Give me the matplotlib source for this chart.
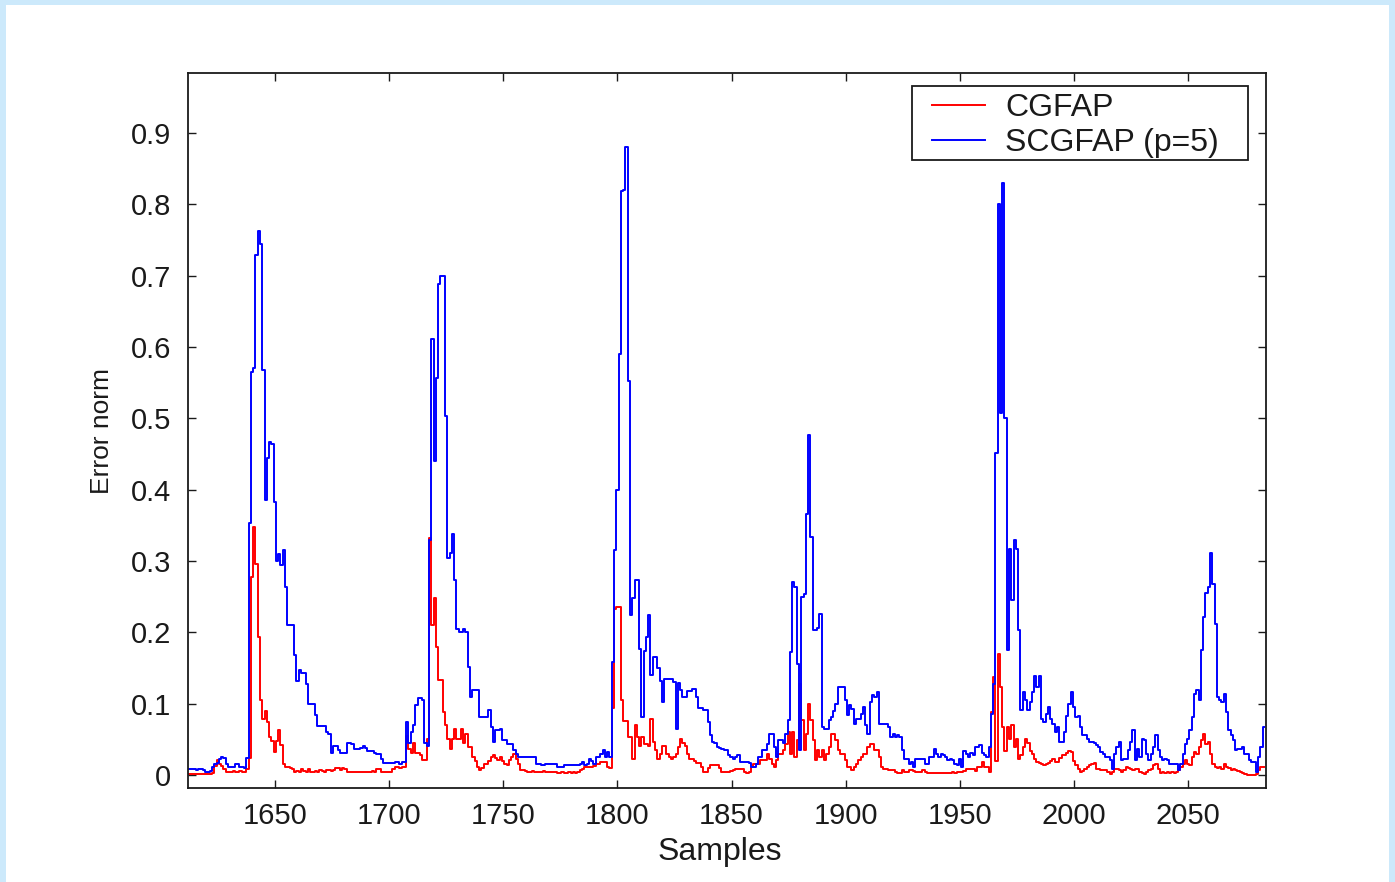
import numpy as np
import matplotlib
matplotlib.use("Agg")
import matplotlib.pyplot as plt
from matplotlib.patches import Rectangle

plt.rcParams['font.family'] = ['Liberation Sans', 'DejaVu Sans']

# Error norm per sample, starting at sample 1612
first_sample = 1612

cgfap = [
    0.001, 0.001, 0.001, 0.001, 0.001, 0.001, 0.001, 0.001, 0.001, 0.001,
    0.002, 0.003, 0.013, 0.021, 0.016, 0.013, 0.008, 0.005, 0.005, 0.005,
    0.006, 0.005, 0.005, 0.006, 0.005, 0.005, 0.008, 0.024, 0.277, 0.348,
    0.296, 0.193, 0.106, 0.079, 0.090, 0.074, 0.053, 0.048, 0.032, 0.048,
    0.063, 0.042, 0.016, 0.011, 0.011, 0.010, 0.008, 0.005, 0.006, 0.004,
    0.008, 0.006, 0.004, 0.008, 0.005, 0.004, 0.006, 0.005, 0.007, 0.006,
    0.004, 0.007, 0.007, 0.006, 0.007, 0.010, 0.010, 0.007, 0.010, 0.008,
    0.005, 0.005, 0.005, 0.005, 0.004, 0.005, 0.005, 0.005, 0.004, 0.005,
    0.005, 0.006, 0.004, 0.008, 0.008, 0.005, 0.005, 0.004, 0.005, 0.005,
    0.008, 0.012, 0.012, 0.010, 0.012, 0.012, 0.055, 0.036, 0.031, 0.045,
    0.031, 0.031, 0.028, 0.021, 0.021, 0.050, 0.333, 0.210, 0.248, 0.180,
    0.133, 0.133, 0.089, 0.070, 0.050, 0.036, 0.050, 0.065, 0.050, 0.050,
    0.065, 0.045, 0.058, 0.040, 0.040, 0.026, 0.020, 0.011, 0.007, 0.010,
    0.016, 0.016, 0.020, 0.026, 0.028, 0.024, 0.021, 0.026, 0.020, 0.016,
    0.014, 0.021, 0.025, 0.030, 0.023, 0.015, 0.007, 0.007, 0.006, 0.005,
    0.005, 0.006, 0.005, 0.004, 0.005, 0.005, 0.006, 0.005, 0.004, 0.005,
    0.005, 0.004, 0.003, 0.003, 0.004, 0.003, 0.003, 0.004, 0.003, 0.004,
    0.003, 0.005, 0.007, 0.009, 0.011, 0.011, 0.011, 0.011, 0.013, 0.016,
    0.016, 0.018, 0.018, 0.018, 0.012, 0.010, 0.094, 0.233, 0.236, 0.236,
    0.106, 0.076, 0.076, 0.053, 0.053, 0.023, 0.070, 0.053, 0.041, 0.053,
    0.044, 0.044, 0.041, 0.079, 0.047, 0.035, 0.023, 0.030, 0.041, 0.041,
    0.029, 0.026, 0.023, 0.026, 0.029, 0.040, 0.050, 0.045, 0.041, 0.030,
    0.023, 0.023, 0.020, 0.017, 0.017, 0.012, 0.005, 0.005, 0.010, 0.014,
    0.014, 0.014, 0.014, 0.010, 0.005, 0.005, 0.005, 0.005, 0.006, 0.007,
    0.008, 0.009, 0.009, 0.009, 0.004, 0.003, 0.004, 0.012, 0.016, 0.016,
    0.016, 0.021, 0.021, 0.021, 0.030, 0.023, 0.016, 0.012, 0.021, 0.030,
    0.030, 0.035, 0.044, 0.060, 0.030, 0.060, 0.025, 0.049, 0.128, 0.077,
    0.035, 0.058, 0.100, 0.077, 0.049, 0.021, 0.035, 0.026, 0.035, 0.021,
    0.030, 0.040, 0.058, 0.058, 0.049, 0.035, 0.030, 0.030, 0.021, 0.012,
    0.012, 0.007, 0.012, 0.016, 0.021, 0.026, 0.030, 0.030, 0.040, 0.044,
    0.044, 0.035, 0.035, 0.025, 0.011, 0.009, 0.008, 0.007, 0.007, 0.007,
    0.005, 0.003, 0.003, 0.007, 0.005, 0.005, 0.007, 0.007, 0.006, 0.005,
    0.005, 0.005, 0.007, 0.005, 0.003, 0.003, 0.003, 0.003, 0.003, 0.003,
    0.003, 0.003, 0.003, 0.003, 0.003, 0.004, 0.003, 0.004, 0.005, 0.005,
    0.006, 0.008, 0.008, 0.008, 0.009, 0.006, 0.011, 0.011, 0.019, 0.012,
    0.011, 0.005, 0.089, 0.137, 0.020, 0.170, 0.123, 0.067, 0.034, 0.067,
    0.050, 0.070, 0.040, 0.050, 0.022, 0.028, 0.039, 0.050, 0.045, 0.034,
    0.030, 0.022, 0.019, 0.017, 0.015, 0.014, 0.016, 0.017, 0.020, 0.022,
    0.019, 0.019, 0.024, 0.028, 0.028, 0.031, 0.034, 0.032, 0.020, 0.014,
    0.008, 0.005, 0.006, 0.008, 0.011, 0.014, 0.015, 0.017, 0.009, 0.008,
    0.007, 0.007, 0.007, 0.005, 0.001, 0.005, 0.009, 0.008, 0.007, 0.005,
    0.007, 0.012, 0.010, 0.009, 0.007, 0.009, 0.008, 0.005, 0.003, 0.002,
    0.005, 0.007, 0.009, 0.014, 0.016, 0.008, 0.003, 0.005, 0.003, 0.004,
    0.003, 0.005, 0.003, 0.005, 0.007, 0.012, 0.016, 0.021, 0.016, 0.014,
    0.025, 0.032, 0.030, 0.040, 0.049, 0.058, 0.044, 0.047, 0.030, 0.016,
    0.012, 0.010, 0.012, 0.008, 0.016, 0.012, 0.010, 0.007, 0.009, 0.007,
    0.006, 0.005, 0.003, 0.001, 0.000, 0.000, 0.000, 0.000, 0.002, 0.007,
    0.012, 0.012,
]

scgfap = [
    0.008, 0.009, 0.008, 0.008, 0.007, 0.008, 0.008, 0.007, 0.005, 0.005,
    0.006, 0.012, 0.016, 0.017, 0.022, 0.026, 0.024, 0.016, 0.011, 0.011,
    0.012, 0.016, 0.015, 0.011, 0.011, 0.010, 0.024, 0.354, 0.565, 0.570,
    0.729, 0.763, 0.745, 0.568, 0.385, 0.444, 0.467, 0.464, 0.383, 0.300,
    0.310, 0.295, 0.315, 0.264, 0.211, 0.211, 0.210, 0.169, 0.132, 0.148,
    0.143, 0.143, 0.128, 0.100, 0.100, 0.100, 0.085, 0.069, 0.069, 0.069,
    0.069, 0.060, 0.058, 0.031, 0.041, 0.041, 0.035, 0.031, 0.031, 0.031,
    0.045, 0.045, 0.043, 0.036, 0.036, 0.036, 0.038, 0.041, 0.038, 0.034,
    0.034, 0.034, 0.031, 0.029, 0.029, 0.022, 0.017, 0.017, 0.017, 0.017,
    0.017, 0.019, 0.019, 0.016, 0.019, 0.019, 0.075, 0.045, 0.060, 0.070,
    0.099, 0.108, 0.108, 0.105, 0.045, 0.041, 0.330, 0.611, 0.440, 0.557,
    0.688, 0.700, 0.700, 0.504, 0.304, 0.311, 0.338, 0.273, 0.205, 0.200,
    0.200, 0.205, 0.200, 0.152, 0.110, 0.119, 0.119, 0.119, 0.082, 0.082,
    0.082, 0.082, 0.091, 0.068, 0.047, 0.063, 0.063, 0.065, 0.049, 0.049,
    0.044, 0.044, 0.044, 0.035, 0.030, 0.026, 0.026, 0.026, 0.026, 0.026,
    0.026, 0.026, 0.026, 0.016, 0.016, 0.014, 0.014, 0.016, 0.016, 0.016,
    0.016, 0.016, 0.011, 0.011, 0.011, 0.014, 0.014, 0.014, 0.014, 0.014,
    0.014, 0.014, 0.016, 0.018, 0.014, 0.016, 0.023, 0.020, 0.016, 0.026,
    0.026, 0.030, 0.035, 0.026, 0.033, 0.025, 0.159, 0.316, 0.400, 0.590,
    0.818, 0.820, 0.880, 0.552, 0.224, 0.248, 0.274, 0.274, 0.177, 0.082,
    0.174, 0.194, 0.224, 0.141, 0.165, 0.165, 0.150, 0.132, 0.103, 0.135,
    0.135, 0.135, 0.135, 0.130, 0.064, 0.129, 0.120, 0.109, 0.109, 0.118,
    0.118, 0.121, 0.121, 0.110, 0.094, 0.094, 0.091, 0.091, 0.075, 0.056,
    0.047, 0.045, 0.040, 0.038, 0.036, 0.035, 0.035, 0.028, 0.025, 0.023,
    0.025, 0.028, 0.019, 0.019, 0.019, 0.019, 0.017, 0.012, 0.012, 0.016,
    0.026, 0.026, 0.035, 0.035, 0.044, 0.058, 0.058, 0.040, 0.026, 0.049,
    0.049, 0.045, 0.058, 0.077, 0.173, 0.271, 0.264, 0.156, 0.035, 0.250,
    0.254, 0.366, 0.477, 0.334, 0.203, 0.203, 0.206, 0.226, 0.068, 0.065,
    0.065, 0.077, 0.082, 0.090, 0.100, 0.124, 0.124, 0.124, 0.105, 0.084,
    0.098, 0.093, 0.072, 0.079, 0.079, 0.086, 0.096, 0.070, 0.058, 0.103,
    0.112, 0.110, 0.117, 0.072, 0.072, 0.072, 0.072, 0.068, 0.054, 0.058,
    0.054, 0.056, 0.054, 0.035, 0.023, 0.023, 0.016, 0.018, 0.012, 0.023,
    0.023, 0.023, 0.023, 0.016, 0.016, 0.026, 0.026, 0.037, 0.030, 0.026,
    0.030, 0.028, 0.026, 0.021, 0.023, 0.021, 0.016, 0.014, 0.022, 0.011,
    0.034, 0.030, 0.026, 0.031, 0.028, 0.039, 0.040, 0.042, 0.031, 0.028,
    0.026, 0.040, 0.086, 0.128, 0.451, 0.800, 0.507, 0.830, 0.500, 0.175,
    0.317, 0.245, 0.329, 0.317, 0.203, 0.092, 0.117, 0.106, 0.092, 0.103,
    0.117, 0.139, 0.123, 0.139, 0.078, 0.075, 0.086, 0.095, 0.078, 0.072,
    0.061, 0.067, 0.047, 0.047, 0.061, 0.083, 0.100, 0.117, 0.095, 0.081,
    0.083, 0.067, 0.056, 0.056, 0.050, 0.047, 0.047, 0.045, 0.042, 0.040,
    0.033, 0.030, 0.025, 0.025, 0.021, 0.009, 0.030, 0.040, 0.047, 0.021,
    0.023, 0.023, 0.035, 0.047, 0.063, 0.021, 0.037, 0.025, 0.051, 0.049,
    0.030, 0.021, 0.030, 0.040, 0.056, 0.035, 0.025, 0.021, 0.023, 0.021,
    0.016, 0.016, 0.016, 0.016, 0.007, 0.016, 0.030, 0.044, 0.051, 0.063,
    0.082, 0.114, 0.119, 0.105, 0.175, 0.222, 0.255, 0.264, 0.311, 0.268,
    0.212, 0.109, 0.105, 0.102, 0.114, 0.089, 0.063, 0.056, 0.049, 0.035,
    0.037, 0.037, 0.040, 0.030, 0.030, 0.021, 0.019, 0.019, 0.005, 0.025,
    0.040, 0.068,
]

series_labels = ["CGFAP", "SCGFAP (p=5)"]
x_ticks = [1650, 1700, 1750, 1800, 1850, 1900, 1950, 2000, 2050]
y_ticks = [0, 0.1, 0.2, 0.3, 0.4, 0.5, 0.6, 0.7, 0.8, 0.9]
y_tick_labels = ["0", "0.1", "0.2", "0.3", "0.4", "0.5", "0.6", "0.7", "0.8", "0.9"]

x_red = first_sample + np.arange(len(cgfap))
x_blue = first_sample + np.arange(len(scgfap))

W, H = 1395, 882
fig = plt.figure(figsize=(W / 100, H / 100), dpi=100)
fig.patch.set_facecolor('#cce9fb')
# white page inside the light blue frame
fig.patches.append(Rectangle((6 / W, 0), (1389 - 6) / W, (H - 5) / H,
                             transform=fig.transFigure, facecolor='white',
                             edgecolor='none', zorder=-10))

ax = fig.add_axes([188 / W, 1 - 788 / H, 1078 / W, 715 / H])
ax.set_zorder(5)
ax.set_facecolor('white')

ax.plot(x_red, cgfap, color='#ff0000', lw=1.4, drawstyle='steps-mid',
        label=series_labels[0])
ax.plot(x_blue, scgfap, color='#0000ff', lw=1.4, drawstyle='steps-mid',
        label=series_labels[1])

ax.set_xlim(1612, 2084)
ax.set_ylim(-0.018, 0.984)
ax.set_xticks(x_ticks)
ax.set_yticks(y_ticks)
ax.set_yticklabels(y_tick_labels)

fs = 21
ink = '#1a1a1a'
ax.tick_params(axis='both', direction='in', length=6, width=1.0,
               top=True, right=True, labelsize=fs, colors=ink)
ax.tick_params(axis='x', pad=10)
ax.tick_params(axis='y', pad=12)
for sp in ax.spines.values():
    sp.set_linewidth(1.3)
    sp.set_color(ink)

ax.set_xlabel("Samples", fontsize=23, color=ink)
ax.xaxis.set_label_coords(0.4935, -0.069, transform=ax.transAxes)
ax.xaxis.label.set_va('top')
ax.set_ylabel("Error norm", fontsize=19, labelpad=12, color=ink)

# legend box with wider side margins than the default frame
box = Rectangle((0.6716, 0.8783), 0.9833 - 0.6716, 0.9818 - 0.8783,
                transform=ax.transAxes, facecolor='white', edgecolor=ink,
                linewidth=1.3, zorder=4)
ax.add_patch(box)
leg = ax.legend(loc='upper left', bbox_to_anchor=((932 - 188) / 1078, (788 - 93) / 715),
                borderaxespad=0, borderpad=0, fontsize=23, frameon=False,
                handlelength=1.65, handletextpad=0.65, labelspacing=0.17)
leg.set_zorder(6)
for t in leg.get_texts():
    t.set_color(ink)

fig.savefig("out.png", dpi=100, facecolor=fig.get_facecolor())
